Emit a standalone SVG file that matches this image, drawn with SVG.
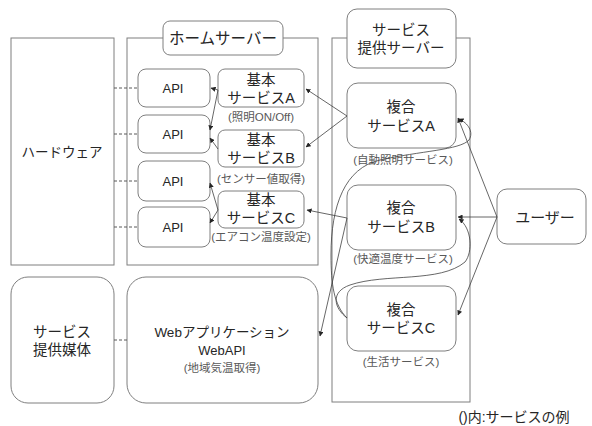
<svg xmlns="http://www.w3.org/2000/svg" width="592" height="426" viewBox="0 0 592 426">
<defs>
<style>
.box{fill:#fff;stroke:#7f7f7f;stroke-width:1}
.dash{stroke:#595959;stroke-width:1;stroke-dasharray:3,2;fill:none}
.con{stroke:#404040;stroke-width:0.8;fill:none}
text{font-family:"Liberation Sans","Noto Sans CJK JP",sans-serif;fill:#262626;text-anchor:middle;dominant-baseline:central}
.t{font-size:14.5px}
.s{font-size:13px}
.l{font-size:11.5px;fill:#595959}
</style>
<marker id="ah" viewBox="0 0 6 6" refX="5.5" refY="3" markerWidth="5" markerHeight="5" markerUnits="userSpaceOnUse" orient="auto">
<path d="M0,0 L6,3 L0,6 Z" fill="#262626"/>
</marker>
</defs>

<g id="containers">
<rect class="box" x="127" y="38" width="191" height="227"/>
<rect class="box" x="332" y="38" width="138" height="364"/>
</g>

<g id="hardware">
<rect class="box" x="11" y="38" width="103" height="227"/>
<text class="s" x="62" y="152" style="font-size:13.5px">ハードウェア</text>
</g>

<g id="home-server-label">
<rect class="box" x="163" y="21" width="120" height="34" rx="7"/>
<text class="t" x="223" y="38" style="font-size:15.5px">ホームサーバー</text>
</g>

<g id="api1"><rect class="box" x="138" y="69" width="72" height="38" rx="8"/><text class="s" x="173" y="88">API</text></g>
<g id="api2"><rect class="box" x="138" y="115" width="72" height="38" rx="8"/><text class="s" x="173" y="134">API</text></g>
<g id="api3"><rect class="box" x="138" y="161" width="72" height="40" rx="8"/><text class="s" x="173" y="181">API</text></g>
<g id="api4"><rect class="box" x="138" y="207" width="72" height="40" rx="8"/><text class="s" x="173" y="227">API</text></g>

<g id="basicA">
<rect class="box" x="218" y="69" width="86" height="38" rx="7"/>
<text class="t" x="261" y="80">基本</text>
<text class="t" x="261" y="98">サービスA</text>
<text class="l" x="261" y="117">(照明ON/Off)</text>
</g>
<g id="basicB">
<rect class="box" x="218" y="130" width="86" height="37" rx="7"/>
<text class="t" x="261" y="140">基本</text>
<text class="t" x="261" y="158">サービスB</text>
<text class="l" x="261" y="179">(センサー値取得)</text>
</g>
<g id="basicC">
<rect class="box" x="218" y="191" width="86" height="37" rx="7"/>
<text class="t" x="261" y="200">基本</text>
<text class="t" x="261" y="218">サービスC</text>
<text class="l" x="261" y="237">(エアコン温度設定)</text>
</g>

<g id="provider-label">
<rect class="box" x="347" y="9" width="109" height="59" rx="10"/>
<text class="t" x="401" y="30">サービス</text>
<text class="t" x="401" y="48">提供サーバー</text>
</g>

<g id="compA">
<rect class="box" x="347" y="83" width="109" height="65" rx="11"/>
<text class="t" x="401" y="107">複合</text>
<text class="t" x="401" y="126">サービスA</text>
<text class="l" x="403" y="160">(自動照明サービス)</text>
</g>
<g id="compB">
<rect class="box" x="347" y="185" width="109" height="65" rx="11"/>
<text class="t" x="401" y="208">複合</text>
<text class="t" x="401" y="227">サービスB</text>
<text class="l" x="403" y="259">(快適温度サービス)</text>
</g>
<g id="compC">
<rect class="box" x="347" y="286" width="109" height="65" rx="11"/>
<text class="t" x="401" y="310">複合</text>
<text class="t" x="401" y="328">サービスC</text>
<text class="l" x="401" y="362">(生活サービス)</text>
</g>

<g id="user">
<rect class="box" x="497" y="189" width="89" height="55" rx="10"/>
<text class="t" x="545" y="217" style="font-size:15px">ユーザー</text>
</g>

<g id="media">
<rect class="box" x="11" y="277" width="103" height="126" rx="17"/>
<text class="t" x="62" y="332">サービス</text>
<text class="t" x="62" y="350">提供媒体</text>
</g>

<g id="webapp">
<rect class="box" x="127" y="277" width="191" height="126" rx="19"/>
<text class="t" x="222" y="332" style="font-size:13.5px">Webアプリケーション</text>
<text class="s" x="222" y="350">WebAPI</text>
<text class="l" x="222" y="368">(地域気温取得)</text>
</g>

<g id="note">
<text class="s" x="514" y="417" style="font-size:14px">()内:サービスの例</text>
</g>

<g id="connectors">
<line class="dash" x1="114" y1="88" x2="138" y2="88"/>
<line class="dash" x1="114" y1="134" x2="138" y2="134"/>
<line class="dash" x1="114" y1="181" x2="138" y2="181"/>
<line class="dash" x1="114" y1="227" x2="138" y2="227"/>
<line class="dash" x1="114" y1="340" x2="127" y2="340"/>

<line class="con" x1="218" y1="90" x2="211" y2="88" marker-end="url(#ah)"/>
<line class="con" x1="218" y1="90" x2="210" y2="130" marker-end="url(#ah)"/>
<line class="con" x1="218" y1="149" x2="210" y2="138" marker-end="url(#ah)"/>
<line class="con" x1="218" y1="210" x2="210" y2="183" marker-end="url(#ah)"/>
<line class="con" x1="218" y1="210" x2="210" y2="223" marker-end="url(#ah)"/>

<line class="con" x1="347" y1="116" x2="306" y2="89" marker-end="url(#ah)"/>
<line class="con" x1="347" y1="116" x2="306" y2="147" marker-end="url(#ah)"/>
<line class="con" x1="347" y1="218" x2="307" y2="210" marker-end="url(#ah)"/>
<line class="con" x1="347" y1="218" x2="320" y2="336" marker-end="url(#ah)"/>

<line class="con" x1="497" y1="217" x2="458" y2="118" marker-end="url(#ah)"/>
<line class="con" x1="497" y1="217" x2="458" y2="217" marker-end="url(#ah)"/>
<line class="con" x1="497" y1="217" x2="458" y2="315" marker-end="url(#ah)"/>

<path class="con" d="M347,318 C334,305 331,285 331,255 C331,205 345,168 380,160 C420,151 460,150 469,140 C474,132 468,123 459,119" marker-end="url(#ah)"/>
<path class="con" d="M347,318 C334,308 330,292 350,285 C385,273 440,283 465,262 C473,252 472,228 459,219" marker-end="url(#ah)"/>
</g>
</svg>
